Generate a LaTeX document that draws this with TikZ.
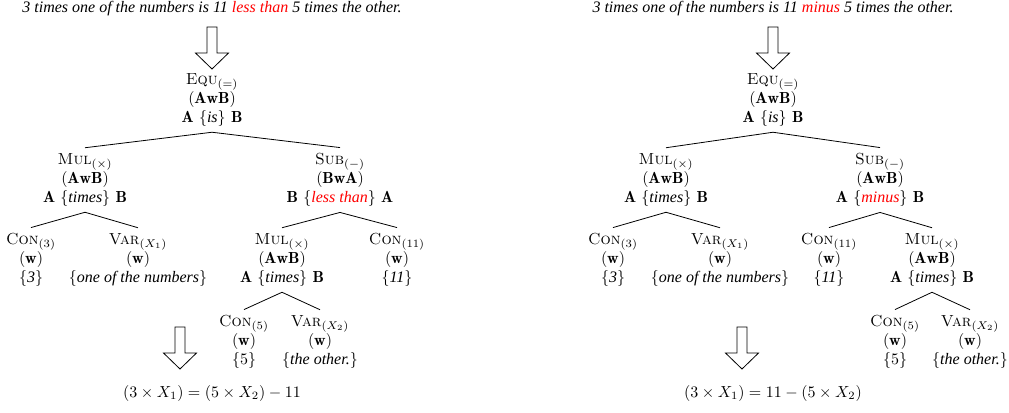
\documentclass[tikz,border=0pt]{standalone}
\usepackage{fontspec}
\newfontfamily\tms{Liberation Serif}
\usetikzlibrary{positioning}
\newcommand{\phr}[1]{{\tms\itshape #1}}
\tikzset{
    % Text
    sentence/.style={font=\tms\itshape, inner sep=1pt},
    tnode/.style={align=center, inner sep=3.3pt},
    eqn/.style={inner sep=1pt},
    % Lines
    branch/.style={draw, line width=0.5pt},
    hollow/.style={draw, line width=0.5pt, fill=white},
    hollowarrow/.pic={
        \draw[hollow] (-5,0) -- (-5,26) -- (-16.5,26) -- (0,42) -- (16.5,26) -- (5,26) -- (5,0) -- cycle;
    }
}

\begin{document}
\begin{tikzpicture}[x=0.625pt, y=-0.625pt]
\useasboundingbox (0,0) rectangle (1009,412);

% ---------- left: "less than"
\node[sentence] (sentL) at (212,9) {3 times one of the numbers is 11 \textcolor{red}{less than} 5 times the other.};
\pic at (212,27) {hollowarrow};

\node[tnode] (equL) at (212,100) {\textsc{Equ}$_{(=)}$\\$(\mathbf{AwB})$\\$\mathbf{A}$ \{\phr{is}\} $\mathbf{B}$};
\node[tnode] (mulL) at (85,180) {\textsc{Mul}$_{(\times)}$\\$(\mathbf{AwB})$\\$\mathbf{A}$ \{\phr{times}\} $\mathbf{B}$};
\node[tnode] (subL) at (340,180) {\textsc{Sub}$_{(-)}$\\$(\mathbf{BwA})$\\$\mathbf{B}$ \{\phr{\textcolor{red}{less than}}\} $\mathbf{A}$};
\node[tnode] (conthreeL) at (31,260) {\textsc{Con}$_{(3)}$\\$(\mathbf{w})$\\\{\phr{3}\}};
\node[tnode] (varoneL) at (138,260) {\textsc{Var}$_{(X_1)}$\\$(\mathbf{w})$\\\{\phr{one of the numbers}\}};
\node[tnode] (multwoL) at (282,260) {\textsc{Mul}$_{(\times)}$\\$(\mathbf{AwB})$\\$\mathbf{A}$ \{\phr{times}\} $\mathbf{B}$};
\node[tnode] (conelevenL) at (397,260) {\textsc{Con}$_{(11)}$\\$(\mathbf{w})$\\\{\phr{11}\}};
\node[tnode] (confiveL) at (244,342) {\textsc{Con}$_{(5)}$\\$(\mathbf{w})$\\\{5\}};
\node[tnode] (vartwoL) at (320,342) {\textsc{Var}$_{(X_2)}$\\$(\mathbf{w})$\\\{\phr{the other.}\}};

\draw[branch] (equL.south) -- (mulL.north);
\draw[branch] (equL.south) -- (subL.north);
\draw[branch] (mulL.south) -- (conthreeL.north);
\draw[branch] (mulL.south) -- (varoneL.north);
\draw[branch] (subL.south) -- (multwoL.north);
\draw[branch] (subL.south) -- (conelevenL.north);
\draw[branch] (multwoL.south) -- (confiveL.north);
\draw[branch] (multwoL.south) -- (vartwoL.north);

\pic at (180,327) {hollowarrow};
\node[eqn] (eqnL) at (212,393) {$(3 \times X_1) = (5 \times X_2) - 11$};

% ---------- right: "minus"
\node[sentence] (sentR) at (773,9) {3 times one of the numbers is 11 \textcolor{red}{minus} 5 times the other.};
\pic at (773,27) {hollowarrow};

\node[tnode] (equR) at (773,100) {\textsc{Equ}$_{(=)}$\\$(\mathbf{AwB})$\\$\mathbf{A}$ \{\phr{is}\} $\mathbf{B}$};
\node[tnode] (mulR) at (666,180) {\textsc{Mul}$_{(\times)}$\\$(\mathbf{AwB})$\\$\mathbf{A}$ \{\phr{times}\} $\mathbf{B}$};
\node[tnode] (subR) at (880,180) {\textsc{Sub}$_{(-)}$\\$(\mathbf{AwB})$\\$\mathbf{A}$ \{\phr{\textcolor{red}{minus}}\} $\mathbf{B}$};
\node[tnode] (conthreeR) at (613,260) {\textsc{Con}$_{(3)}$\\$(\mathbf{w})$\\\{\phr{3}\}};
\node[tnode] (varoneR) at (720,260) {\textsc{Var}$_{(X_1)}$\\$(\mathbf{w})$\\\{\phr{one of the numbers}\}};
\node[tnode] (conelevenR) at (829,260) {\textsc{Con}$_{(11)}$\\$(\mathbf{w})$\\\{\phr{11}\}};
\node[tnode] (multwoR) at (932,260) {\textsc{Mul}$_{(\times)}$\\$(\mathbf{AwB})$\\$\mathbf{A}$ \{\phr{times}\} $\mathbf{B}$};
\node[tnode] (confiveR) at (895,342) {\textsc{Con}$_{(5)}$\\$(\mathbf{w})$\\\{5\}};
\node[tnode] (vartwoR) at (970,342) {\textsc{Var}$_{(X_2)}$\\$(\mathbf{w})$\\\{\phr{the other.}\}};

\draw[branch] (equR.south) -- (mulR.north);
\draw[branch] (equR.south) -- (subR.north);
\draw[branch] (mulR.south) -- (conthreeR.north);
\draw[branch] (mulR.south) -- (varoneR.north);
\draw[branch] (subR.south) -- (conelevenR.north);
\draw[branch] (subR.south) -- (multwoR.north);
\draw[branch] (multwoR.south) -- (confiveR.north);
\draw[branch] (multwoR.south) -- (vartwoR.north);

\pic at (742,327) {hollowarrow};
\node[eqn] (eqnR) at (773,393) {$(3 \times X_1) = 11 - (5 \times X_2)$};

\end{tikzpicture}
\end{document}
